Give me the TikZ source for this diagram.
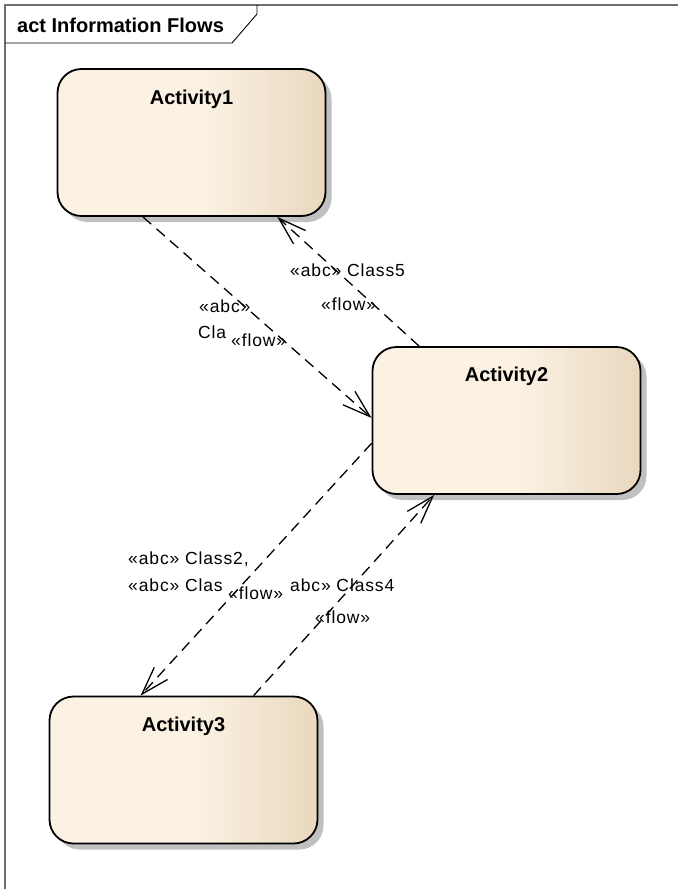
\documentclass[tikz,border=0pt]{standalone}
\usepackage{fontspec}
\setmainfont{Liberation Sans}
\newfontfamily\labelfont[LetterSpace=5]{Liberation Sans}
\usetikzlibrary{arrows.meta,shadows,calc}
\definecolor{actlight}{RGB}{251,242,228}
\definecolor{actdark}{RGB}{233,216,190}
\definecolor{shadowgray}{RGB}{192,192,192}
\definecolor{framegray}{RGB}{110,110,110}
\pgfdeclarehorizontalshading{actshade}{100bp}{color(0bp)=(actlight); color(25bp)=(actlight); color(52bp)=(actlight); color(75bp)=(actdark); color(100bp)=(actdark)}
\begin{document}
\begin{tikzpicture}[x=1pt,y=-1pt,
  actbox/.style={draw=black, line width=1.8pt, rounded corners=24pt, shade, shading=actshade,
    minimum width=268pt, minimum height=147pt,
    drop shadow={shadow xshift=6pt, shadow yshift=-6pt, fill=shadowgray, opacity=1}},
  acttitle/.style={font=\bfseries\fontsize{20}{24}\selectfont, inner sep=0pt},
  flowlabel/.style={font=\labelfont\fontsize{17.5}{20}\selectfont, inner sep=0pt, anchor=west},
  flowline/.style={line width=1.3pt, dash pattern=on 11pt off 7pt,
    -{Straight Barb[length=28pt,width=18pt,line width=1.3pt]}}
]
\useasboundingbox (0,0) rectangle (678,889);

% diagram frame and its name tab
\draw[framegray, line width=1.2pt] (5,889) -- (5,5) -- (678,5);
\draw[black, line width=0.9pt] (5,43) -- (232,43) -- (257,14) -- (257,5);
\node[font=\bfseries\fontsize{20}{24}\selectfont, inner sep=0pt, anchor=west] (frametitle) at (17,25) {act Information Flows};

% activities
\node[actbox] (a1) at (191.5,142.5) {};
\node[actbox] (a2) at (506.5,420.5) {};
\node[actbox] (a3) at (183.5,770) {};
\node[acttitle] (a1t) at ($(a1.north)+(0,31)$) {Activity1};
\node[acttitle] (a2t) at ($(a2.north)+(0,30)$) {Activity2};
\node[acttitle] (a3t) at ($(a3.north)+(0,31)$) {Activity3};

% information flows
\draw[flowline] ($(a1.south west)!0.32!(a1.south east)$) -- ($(a2.north west)!0.483!(a2.south west)$);
\draw[flowline] ($(a2.north west)!0.176!(a2.north east)$) -- ($(a1.south west)!0.818!(a1.south east)$);
\draw[flowline] ($(a2.north west)!0.653!(a2.south west)$) -- ($(a3.north west)!0.341!(a3.north east)$);
\draw[flowline] ($(a3.north west)!0.76!(a3.north east)$) -- ($(a2.south west)!0.232!(a2.south east)$);

% flow labels
\node[flowlabel] (l1a) at (199,306) {«abc»};
\node[flowlabel] (l1b) at (198,332) {Cla};
\node[flowlabel] (l1f) at (231,340) {«flow»};
\node[flowlabel] (l5a) at (290,270) {«abc» Class5};
\node[flowlabel] (l5f) at (321,304) {«flow»};
\node[flowlabel] (l2a) at (128,559) {«abc» Class2,};
\node[flowlabel] (l2b) at (128,585) {«abc» Clas};
\node[flowlabel] (l4a) at (290,585) {abc» Class4};
\node[flowlabel] (l2f) at (228,593) {«flow»};
\node[flowlabel] (l4f) at (315,617) {«flow»};
\end{tikzpicture}
\end{document}
